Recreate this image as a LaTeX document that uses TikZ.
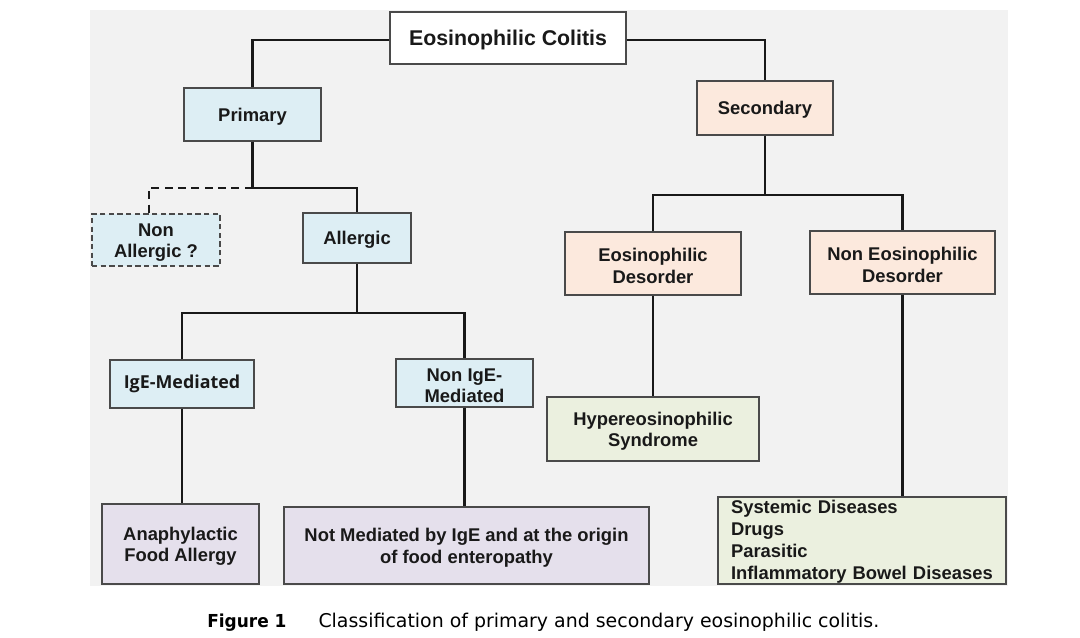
\documentclass[tikz,border=0pt]{standalone}
\usepackage{fontspec}
\setmainfont{Liberation Sans}
\newfontfamily\igefont{Open Sans}
\newfontfamily\capfont[FakeStretch=0.95]{DejaVu Sans}
\newfontfamily\capfontb{DejaVu Sans}
\newcommand\topstrut{\rule{0pt}{13.5pt}}
\definecolor{bgc}{HTML}{F2F2F2}
\definecolor{bluec}{HTML}{DDEEF4}
\definecolor{peachc}{HTML}{FCE9DD}
\definecolor{lilacc}{HTML}{E5E0EC}
\definecolor{greenc}{HTML}{EBF0DF}
\definecolor{edgec}{HTML}{4A4A4A}
\tikzset{
  box/.style={draw=edgec, line width=1pt, align=center, inner sep=2pt,
    font=\fontsize{13.8}{16}\selectfont\bfseries, text=black!90},
  oneline/.style={text depth=0pt},
  link/.style={line width=2pt, black!90},
  dlink/.style={link, dash pattern=on 6pt off 4pt},
}
\begin{document}
\begin{tikzpicture}[x=0.75pt,y=-0.75pt]
\useasboundingbox (0,0) rectangle (1080,638);
\fill[white] (0,0) rectangle (1080,638);
\fill[bgc] (90,10) rectangle (1008,586);
% nodes
\node[box, oneline, fill=white, minimum width=177pt, minimum height=39pt,
  font=\fontsize{16}{18}\selectfont\bfseries] (col) at (508,38) {Eosinophilic Colitis};
\node[box, oneline, fill=bluec, minimum width=102.75pt, minimum height=39.75pt] (prim) at (252.5,114.5) {Primary};
\node[box, oneline, fill=peachc, minimum width=102pt, minimum height=40.5pt] (sec) at (765,108) {Secondary};
\node[box, fill=bluec, dashed, dash pattern=on 4pt off 2.5pt, minimum width=96pt, minimum height=39pt] (nonall) at (156,240) {\topstrut Non\\Allergic ?};
\node[box, oneline, fill=bluec, minimum width=81pt, minimum height=37.5pt] (allg) at (357,238) {Allergic};
\node[box, fill=peachc, minimum width=132pt, minimum height=47.25pt] (eosd) at (653,263.5) {\topstrut Eosinophilic\\Desorder};
\node[box, fill=peachc, minimum width=138.75pt, minimum height=47.25pt] (noneos) at (902.5,262.5) {\topstrut Non Eosinophilic\\Desorder};
\node[box, fill=bluec, minimum width=108pt, minimum height=36pt,
  font=\igefont\fontsize{13.4}{15}\selectfont\bfseries] (ige) at (182,384) {IgE-Mediated};
\node[box, fill=bluec, minimum width=102.75pt, minimum height=36pt] (nonige) at (464.5,383) {\topstrut Non IgE-\\Mediated};
\node[box, fill=greenc, minimum width=159pt, minimum height=48pt] (hyper) at (653,429) {\topstrut Hypereosinophilic\\Syndrome};
\node[box, fill=lilacc, minimum width=117.75pt, minimum height=60pt] (ana) at (180.5,544) {\topstrut Anaphylactic\\Food Allergy};
\node[box, fill=lilacc, minimum width=273.75pt, minimum height=57.75pt] (notm) at (466.5,545.5) {\topstrut Not Mediated by IgE and at the origin\\of food enteropathy};
\node[box, fill=greenc, minimum width=216pt, minimum height=65.25pt, inner xsep=9.75pt, inner ysep=0pt,
  text width=196.5pt, align=left, font=\fontsize{13.8}{16.5}\selectfont\bfseries] (sys) at (862,540.5)
  {\rule{0pt}{12pt}Systemic Diseases\\Drugs\\Parasitic\\Inflammatory Bowel Diseases};
% junctions
\coordinate (jp) at (252.5,188);
\coordinate (jna) at (149,188);
\coordinate (ja) at (357,313);
\coordinate (js) at (765,195);
\coordinate (jsys) at (902.5,497);
% connectors
\draw[link] (col.west |- 0,40) -| (prim.north);
\draw[link] (col.east |- 0,40) -| (sec.north);
\draw[link] (prim.south) -- (jp) -| (allg.north);
\draw[dlink] (jp) -- (jna) -- (jna |- nonall.north);
\draw[link] (allg.south) -- (ja);
\draw[link] (ige.north) |- (ja) -| (nonige.north);
\draw[link] (ige.south) -- (ana.north -| ige.south);
\draw[link] (nonige.south) -- (notm.north -| nonige.south);
\draw[link] (sec.south) -- (js);
\draw[link] (eosd.north) |- (js) -| (noneos.north);
\draw[link] (eosd.south) -- (hyper.north);
\draw[link] (noneos.south) -- (sys.north -| noneos.south);
% caption
\node[anchor=base west, inner sep=0pt, font=\capfont\fontsize{13.4}{16}\selectfont] (cap) at (207,627)
  {\textbf{Figure 1}\hspace{24pt}{\capfontb\fontsize{14.2}{16}\selectfont Classification of primary and secondary eosinophilic colitis.}};
\end{tikzpicture}
\end{document}
